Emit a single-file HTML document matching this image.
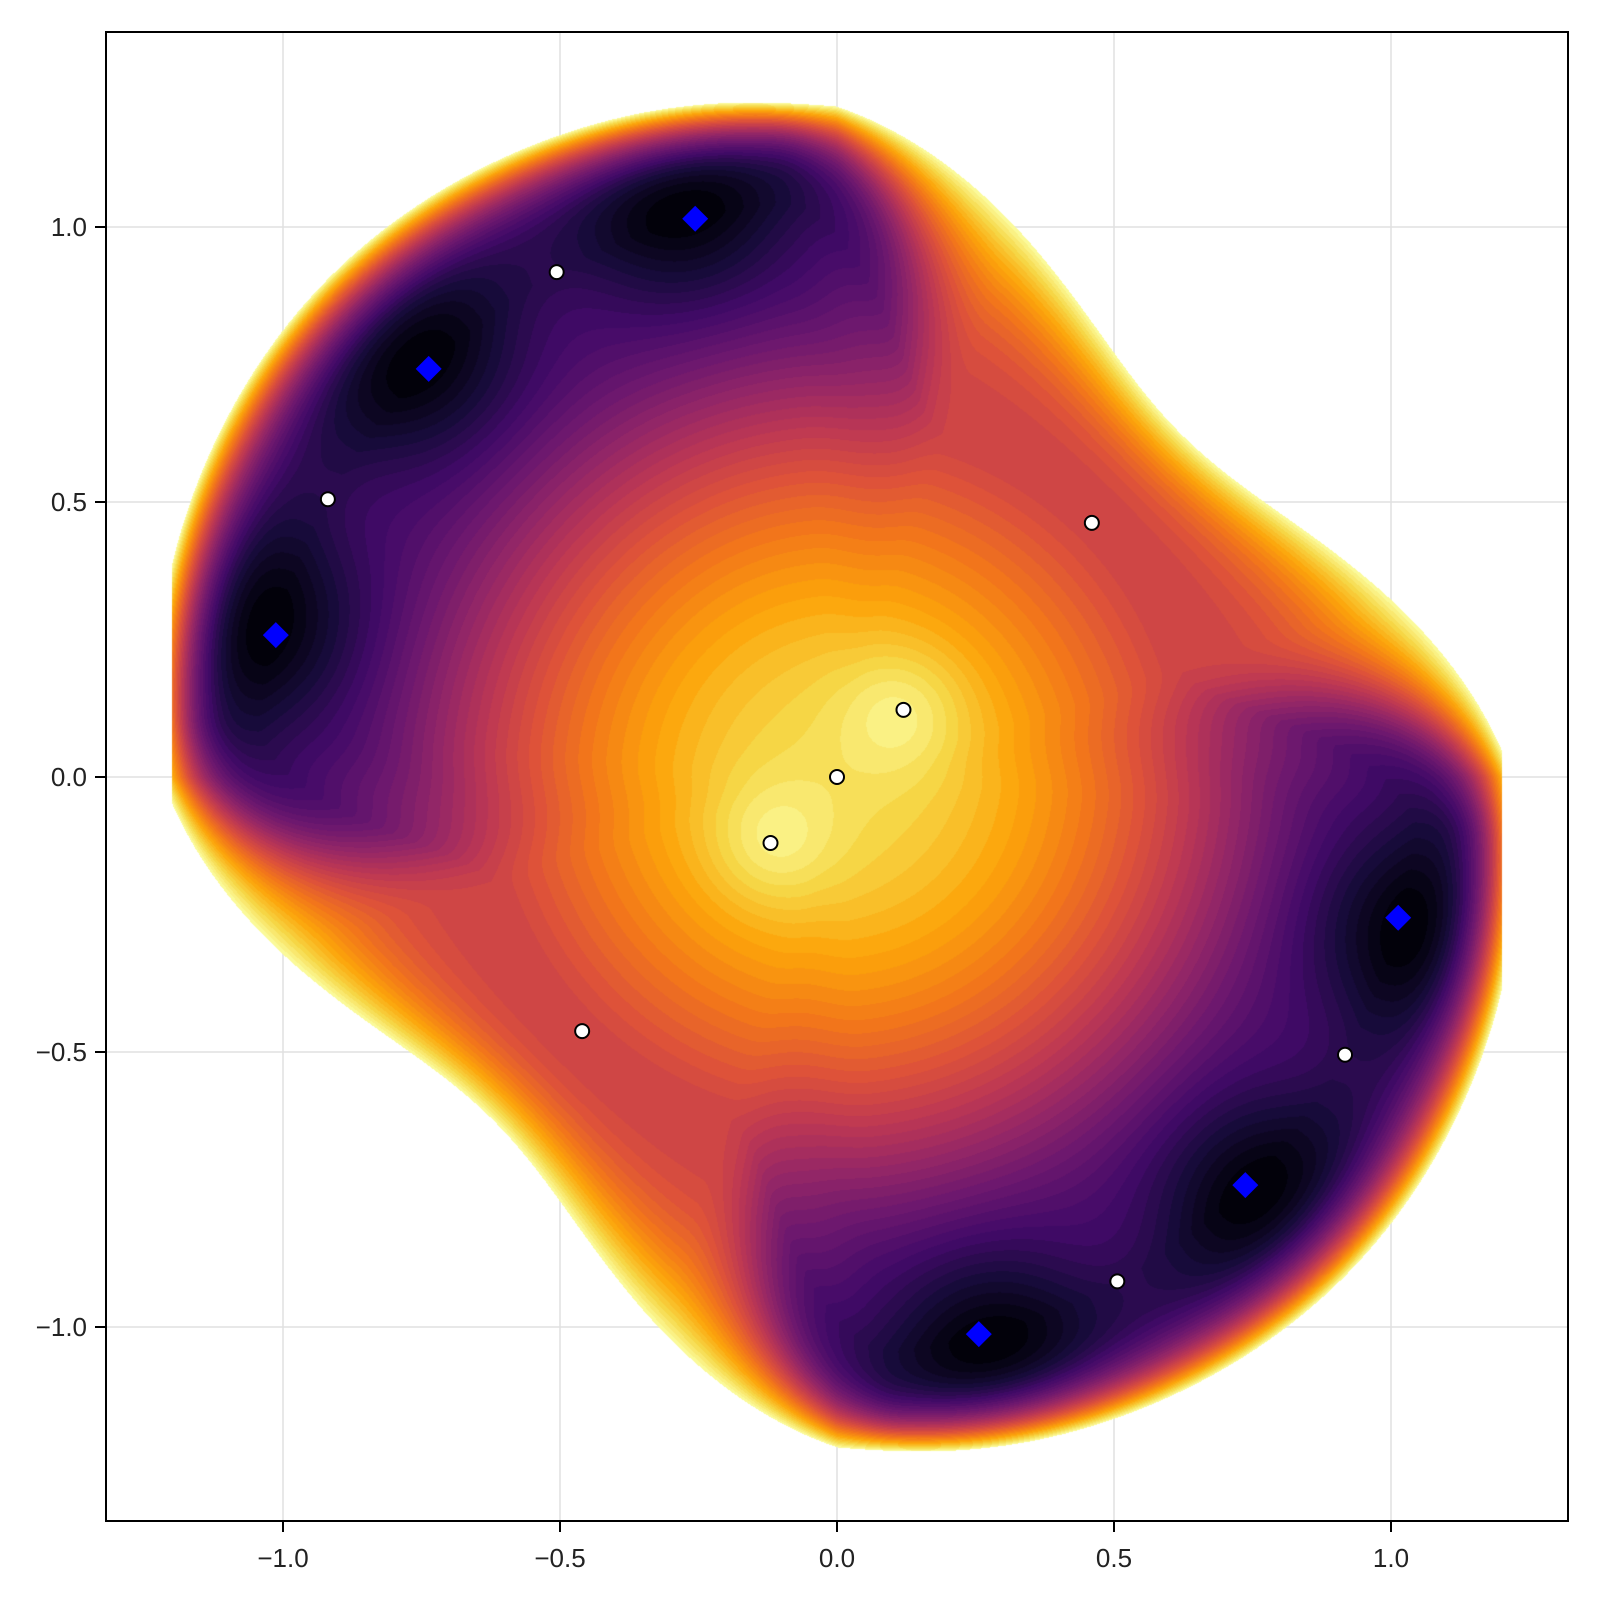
<!DOCTYPE html>
<html><head><meta charset="utf-8"><style>
html,body{margin:0;padding:0;background:#fff;}
#w{position:relative;width:1600px;height:1600px;overflow:hidden;font-family:"Liberation Sans",sans-serif;}
canvas{position:absolute;left:0;top:0;}
.yl{position:absolute;right:1513px;font-size:26px;color:#222;text-align:right;line-height:26px;}
.xl{position:absolute;top:1545px;font-size:26px;color:#222;width:100px;text-align:center;line-height:26px;}
</style></head><body><div id="w">
<svg width="1600" height="1600" style="position:absolute;left:0;top:0">
<g stroke="#e0e0e0" stroke-width="1.5">
<line x1="283" y1="32" x2="283" y2="1521"/><line x1="560" y1="32" x2="560" y2="1521"/><line x1="837" y1="32" x2="837" y2="1521"/><line x1="1114" y1="32" x2="1114" y2="1521"/><line x1="1391" y1="32" x2="1391" y2="1521"/>
<line x1="106" y1="227" x2="1568" y2="227"/><line x1="106" y1="502" x2="1568" y2="502"/><line x1="106" y1="777" x2="1568" y2="777"/><line x1="106" y1="1052" x2="1568" y2="1052"/><line x1="106" y1="1327" x2="1568" y2="1327"/>
</g></svg>
<canvas id="c" width="1600" height="1600"></canvas>
<svg id="ov" width="1600" height="1600" style="position:absolute;left:0;top:0">
<rect x="106" y="32" width="1462" height="1489" fill="none" stroke="#000" stroke-width="2"/>
<g stroke="#000" stroke-width="2">
<line x1="283" y1="1521" x2="283" y2="1532"/><line x1="560" y1="1521" x2="560" y2="1532"/><line x1="837" y1="1521" x2="837" y2="1532"/><line x1="1114" y1="1521" x2="1114" y2="1532"/><line x1="1391" y1="1521" x2="1391" y2="1532"/>
<line x1="95" y1="227" x2="106" y2="227"/><line x1="95" y1="502" x2="106" y2="502"/><line x1="95" y1="777" x2="106" y2="777"/><line x1="95" y1="1052" x2="106" y2="1052"/><line x1="95" y1="1327" x2="106" y2="1327"/>
</g>
<g id="mk"></g>
</svg>
<div class="yl" style="top:214px">1.0</div>
<div class="yl" style="top:489px">0.5</div>
<div class="yl" style="top:764px">0.0</div>
<div class="yl" style="top:1039px">−0.5</div>
<div class="yl" style="top:1314px">−1.0</div>
<div class="xl" style="left:233px">−1.0</div>
<div class="xl" style="left:510px">−0.5</div>
<div class="xl" style="left:787px">0.0</div>
<div class="xl" style="left:1064px">0.5</div>
<div class="xl" style="left:1341px">1.0</div>
</div>
<script>
var stops=[[0,0,0,4],[.1,22,11,57],[.2,66,10,104],[.3,106,23,110],[.4,147,38,103],[.5,188,55,84],[.6,221,81,58],[.7,243,120,25],[.8,252,165,10],[.9,246,215,70],[1,252,255,164]];
function cmap(t){for(var i=1;i<stops.length;i++){if(t<=stops[i][0]){var a=stops[i-1],b=stops[i],u=(t-a[0])/(b[0]-a[0]);return [a[1]+(b[1]-a[1])*u,a[2]+(b[2]-a[2])*u,a[3]+(b[3]-a[3])*u];}}return [252,255,164];}
function sst(a,b,v){var t=(v-a)/(b-a);t=Math.max(0,Math.min(1,t));return t*t*(3-2*t);}
function f(x,y){
 var r=Math.sqrt(x*x+y*y)+1e-9,th=Math.atan2(y,x),s=2*x*y/(r*r);
 var w=sst(0.6,-0.2,s);
 var rm=0.65+0.4*w, vm=0.55*(1-w);
 var rb=s>0?1.22-0.22*s-0.12*s*s:1.22-0.07*s;
 if(rb<rm+0.15)rb=rm+0.15;
 var v;
 if(r<rm){var q=1-(r/rm)*(r/rm);v=vm+(0.91-vm)*Math.pow(q,1.3);}
 else{var q=(r-rm)/(rb-rm);v=vm+(1-vm)*Math.pow(q,2.7);}
 var ring=0.07*(1+Math.cos(12*th));
 v+=ring*w*w*Math.exp(-Math.pow((r-rm)/0.16,2));
 v+=0.085*(Math.exp(-((x-.12)*(x-.12)+(y-.12)*(y-.12))/0.013)+Math.exp(-((x+.12)*(x+.12)+(y+.12)*(y+.12))/0.013));
 return v;
}
var c=document.getElementById('c'),g=c.getContext('2d');
var im=g.createImageData(1462,1489),d=im.data,N=44;
for(var py=0;py<1489;py++){for(var px=0;px<1462;px++){
 var X=(106+px+0.5-837)/554,Y=(777-(32+py+0.5))/550,k=(py*1462+px)*4;
 if(X<-1.2||X>1.2){d[k+3]=0;continue;}
 var v=f(X,Y);
 if(v>1||v<-0.05){d[k+3]=0;continue;}
 var lv=Math.floor(Math.max(0,v)*N)/N+0.5/N;if(lv>1)lv=1;
 var col=cmap(lv);d[k]=col[0];d[k+1]=col[1];d[k+2]=col[2];d[k+3]=255;}}
g.putImageData(im,106,32);
var mk=document.getElementById('mk'),h='';
function P(x,y){return [837+554*x,777-550*y];}
[[-0.506,0.918],[-0.919,0.505],[0.46,0.462],[0.12,0.122],[0,0],[-0.12,-0.12],[-0.46,-0.462],[0.917,-0.505],[0.506,-0.917]].forEach(function(p){var q=P(p[0],p[1]);h+='<circle cx="'+q[0]+'" cy="'+q[1]+'" r="7" fill="#fff" stroke="#000" stroke-width="2"/>';});
[[-0.256,1.015],[-0.737,0.742],[-1.013,0.258],[1.013,-0.256],[0.737,-0.742],[0.256,-1.013]].forEach(function(p){var q=P(p[0],p[1]),a=13;h+='<polygon points="'+q[0]+','+(q[1]-a)+' '+(q[0]+a)+','+q[1]+' '+q[0]+','+(q[1]+a)+' '+(q[0]-a)+','+q[1]+'" fill="#0000ff"/>';});
mk.innerHTML=h;
</script>
</body></html>
